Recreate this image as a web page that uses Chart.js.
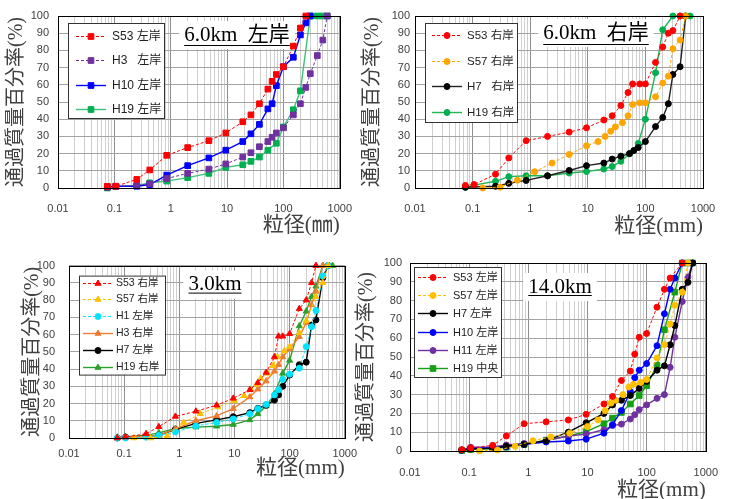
<!DOCTYPE html>
<html>
<head>
<meta charset="utf-8">
<script src="https://cdn.jsdelivr.net/npm/chart.js@4.4.0/dist/chart.umd.min.js"></script>
<style>
    html, body { margin: 0; padding: 0; background: #fff; overflow: hidden; }
    body { width: 733px; height: 499px; position: relative; }
    canvas { position: absolute; }
</style>
</head>
<body>
<canvas id="km60l" width="366" height="240" style="left:0;top:0"></canvas>
<canvas id="km60r" width="377" height="240" style="left:356px;top:0"></canvas>
<canvas id="km30" width="366" height="254" style="left:0;top:245px"></canvas>
<canvas id="km140" width="380" height="256" style="left:353px;top:248px"></canvas>
<script>
// axis labels
const X_TICK_LABELS = ['0.01', '0.1', '1', '10', '100', '1000'];
const Y_TICKS = [0, 10, 20, 30, 40, 50, 60, 70, 80, 90, 100];
const Y_TITLE = '通過質量百分率(%)';

// 6.0km 左岸  [粒径 mm, 通過質量百分率 %]
const KM60L_LABELS = ['S53 左岸', 'H3   左岸', 'H10 左岸', 'H19 左岸'];
const KM60L_S53 = [[0.075,1],[0.106,1],[0.25,5],[0.425,10.5],[0.85,19],[2,23.5],[4.75,27.5],[9.5,32],[19,38.5],[26.5,42.5],[37.5,49],[53,57.5],[63,62],[75,66],[100,70.5],[150,82.5],[200,93],[250,100]];
const KM60L_H3 = [[0.075,0.5],[0.106,1],[0.25,1.5],[0.425,2.5],[0.85,5.5],[2,8.5],[4.75,11],[9.5,14],[19,18],[26.5,20.5],[37.5,24],[53,27],[63,29.5],[75,32],[100,35],[150,42.5],[200,49],[250,58.5],[300,66.5],[400,77],[500,86],[600,100]];
const KM60L_H10 = [[0.075,0.5],[0.106,1],[0.25,1],[0.425,2],[0.85,7.5],[2,13],[4.75,17.5],[9.5,22],[19,27],[26.5,31.5],[37.5,37],[53,46],[63,49],[75,59.5],[100,70.5],[150,76],[200,89],[250,96],[300,100]];
const KM60L_H19 = [[0.075,0],[0.106,0.8],[0.25,1.5],[0.425,3],[0.85,4],[2,6],[4.75,8.5],[9.5,12],[19,13.5],[26.5,15.5],[37.5,18],[53,22],[75,26],[100,35.5],[150,45.5],[200,56.5],[300,100],[400,100],[500,100],[600,100]];

// 6.0km 右岸
const KM60R_LABELS = ['S53 右岸', 'S57 右岸', 'H7   右岸', 'H19 右岸'];
const KM60R_S53 = [[0.075,1.5],[0.106,2],[0.25,8],[0.425,17.5],[0.85,27.5],[2,30],[4.75,32.5],[9.5,35],[19,39.5],[26.5,42],[37.5,48],[50,55.5],[60,60.5],[80,60.5],[100,60.5],[150,73],[200,82],[250,90],[300,91.5],[400,100]];
const KM60R_S57 = [[0.15,0],[0.3,0.5],[0.6,4.5],[1.2,9.5],[2.4,14.5],[4.75,19.5],[9.5,24.5],[15,27],[20,30],[25,33],[30,35.5],[40,38],[50,42],[60,48.5],[80,49.5],[100,49.5],[150,53],[200,61],[250,65],[300,81],[400,86],[500,100]];
const KM60R_H7 = [[0.075,0.4],[0.25,1],[0.425,2.7],[0.85,4.4],[2,7.1],[4.75,10.2],[9.5,13],[19,14.5],[26.5,16.8],[37.5,18.5],[53,20],[63,21.8],[75,23.5],[100,27],[150,35.7],[200,41],[250,49],[300,66],[400,70.5],[500,100]];
const KM60R_H19 = [[0.075,0.4],[0.106,1.7],[0.25,3.9],[0.425,6.6],[0.85,7.1],[2,7.1],[4.75,8.7],[9.5,9.6],[19,11],[26.5,12.5],[37.5,15.5],[53,19.9],[75,25.9],[100,40],[150,67],[200,92],[300,100],[400,100],[500,100],[600,100]];

// 3.0km
const KM30_LABELS = ['S53 右岸', 'S57 右岸', 'H1 左岸', 'H3 右岸', 'H7 左岸', 'H19 右岸'];
const KM30_S53 = [[0.075,0],[0.106,0.5],[0.25,2.5],[0.425,6.5],[0.85,12.5],[2,15.5],[4.75,19],[9.5,23],[19,28],[26.5,32],[37.5,38],[53,47],[63,59],[75,59],[100,60.5],[150,75],[200,80],[250,90],[300,100]];
const KM30_S57 = [[0.15,0],[0.3,0],[0.6,1],[1.2,9],[2.4,14],[5,18],[10,21.5],[15,24.5],[20,28],[25,31],[30,34.5],[40,37.5],[50,42],[60,47],[80,50.5],[100,53],[150,61],[200,68],[300,82],[400,90],[500,100]];
const KM30_H1 = [[0.075,0],[0.106,0],[0.25,0.5],[0.425,1.5],[0.85,3.5],[2,7],[4.75,9],[9.5,11],[19,14],[26.5,17],[37.5,19.5],[53,25],[63,28],[75,34],[100,37],[150,40.5],[200,53],[250,64.5],[300,74],[400,94],[500,100]];
const KM30_H3 = [[0.075,0],[0.106,0.5],[0.25,1],[0.425,1.5],[0.85,5.3],[2,10],[4.75,12.8],[9.5,17],[19,23.8],[26.5,28.3],[37.5,33],[53,38.7],[63,42.5],[75,47],[100,51.7],[150,58.7],[200,66.8],[250,77.2],[300,85],[400,100]];
const KM30_H7 = [[0.075,0],[0.106,0.5],[0.25,1],[0.425,1.5],[0.85,5],[2,8.5],[4.75,10.5],[9.5,12.3],[19,14.7],[26.5,17.2],[37.5,19],[53,22],[63,25],[75,30],[100,36.5],[150,42.5],[200,44],[250,65.5],[300,68.5],[400,93],[500,100]];
const KM30_H19 = [[0.075,0.5],[0.106,0.8],[0.25,1.5],[0.425,3],[0.85,5.5],[2,6.3],[4.75,6.8],[9.5,7.8],[19,10.5],[26.5,14],[37.5,18.5],[53,25.5],[75,37.5],[100,45],[150,65],[200,73.5],[250,82],[300,88],[400,100],[500,100],[600,100]];

// 14.0km
const KM140_LABELS = ['S53 左岸', 'S57 左岸', 'H7 左岸', 'H10 左岸', 'H11 左岸', 'H19 中央'];
const KM140_S53 = [[0.075,0.7],[0.106,1.6],[0.25,3],[0.425,8],[0.85,14.5],[2,15.5],[4.75,16.5],[9.5,19.5],[19,25],[26.5,29],[37.5,37.5],[53,42.5],[63,51.5],[75,60.5],[100,62.5],[150,76.5],[200,86],[250,92],[400,100]];
const KM140_S57 = [[0.15,0],[0.3,0.5],[0.6,2.5],[1.2,5.5],[2.4,7.5],[5,9.5],[10,13],[15,16.5],[20,21.5],[25,25.5],[30,27],[40,30],[50,34],[60,35.5],[80,36.5],[100,38],[150,49.5],[200,56.5],[250,67.5],[300,77.5],[400,84.5],[500,100]];
const KM140_H7 = [[0.075,0.5],[0.106,1],[0.25,1.5],[0.425,2.5],[0.85,3.5],[2,5.5],[4.75,10],[9.5,15],[19,20],[26.5,24.5],[37.5,27],[53,29.5],[75,33.3],[100,37],[150,43],[200,45.3],[250,56.5],[300,66.7],[400,86],[500,89.7],[600,100]];
const KM140_H10 = [[0.075,0.5],[0.106,1.5],[0.25,1.8],[0.425,2.3],[0.85,3.5],[2,4.8],[4.75,5.3],[9.5,6.3],[19,9.5],[26.5,14],[37.5,21.5],[53,31.5],[63,39],[75,43],[100,46.5],[150,56],[200,73],[250,86],[300,92],[400,100]];
const KM140_H11 = [[0.075,0.5],[0.106,2],[0.25,2.2],[0.425,3.2],[0.85,4],[2,5.5],[4.75,8],[9.5,9],[19,11.3],[26.5,13.5],[37.5,14.3],[53,17],[63,19.3],[75,22],[100,24.5],[150,28],[200,30],[250,44.5],[300,60.5],[400,79.5],[500,92.5],[600,100]];
const KM140_H19 = [[0.075,0.3],[0.106,0.8],[0.25,1.3],[0.425,2],[0.85,3.5],[2,5.8],[4.75,8],[9.5,10.3],[19,14.5],[26.5,17.5],[37.5,20.5],[53,25],[75,29.5],[100,34.7],[150,45.5],[200,64.5],[300,84.5],[400,100],[500,100],[600,100]];

const SANS = '"Liberation Sans", "Noto Sans CJK JP", sans-serif';
const SERIF = '"Liberation Serif", "Noto Sans CJK JP", serif';

// log grid: 1..9 x 10^n between 0.01 and 1000
const xGridValues = [];
for (let e = -2; e < 3; e++) {
    for (let m = 1; m < 10; m++) xGridValues.push(Number((m * Math.pow(10, e)).toPrecision(3)));
}
xGridValues.push(1000);

function isDecade(v) {
    const l = Math.log10(v);
    return Math.abs(l - Math.round(l)) < 1e-9;
}

function series(label, data, color, opts = {}) {
    return {
        label,
        data: data.map(([x, y]) => ({ x, y })),
        borderColor: opts.line || color,
        backgroundColor: color,
        pointBackgroundColor: color,
        pointBorderColor: color,
        pointBorderWidth: 1,
        pointStyle: opts.point || 'circle',
        pointRadius: opts.r || 3,
        borderWidth: opts.dash ? 1 : 1.4,
        borderDash: opts.dash ? [3, 2] : [],
        tension: 0,
        fill: false,
        clip: false
    };
}

const panelPlugin = {
    id: 'panel',
    beforeDatasetsDraw(chart, args, o) {
        const { ctx, chartArea: a } = chart;
        ctx.save();
        // caption with white patch and underline
        ctx.font = `${o.capSize}px ${SERIF}`;
        const tw = ctx.measureText(o.caption).width;
        const cx = a.left + o.capX, cy = a.top + o.capY;
        ctx.fillStyle = '#fff';
        ctx.fillRect(cx - tw / 2 - 5, cy - 14, tw + 10, 28);
        ctx.fillStyle = '#000';
        ctx.textAlign = 'center';
        ctx.textBaseline = 'middle';
        ctx.fillText(o.caption, cx, cy);
        ctx.fillRect(cx - tw / 2, cy + o.ulY, tw, 1);

        // legend box
        const lg = o.legend;
        const bx = a.left + lg.dx, by = a.top + lg.dy;
        ctx.fillStyle = '#fff';
        ctx.fillRect(bx, by, lg.w, lg.h);
        ctx.strokeStyle = '#333';
        ctx.lineWidth = 1;
        ctx.strokeRect(bx + 0.5, by + 0.5, lg.w, lg.h);
        ctx.font = `${lg.size}px ${SANS}`;
        ctx.textAlign = 'left';
        chart.data.datasets.forEach((ds, i) => {
            const y = Math.round(by + lg.row0 + i * lg.gap) + 0.5;
            ctx.strokeStyle = ds.borderColor;
            ctx.lineWidth = ds.borderWidth;
            ctx.setLineDash(ds.borderDash);
            ctx.beginPath();
            ctx.moveTo(bx + lg.x0, y);
            ctx.lineTo(bx + lg.x0 + 30, y);
            ctx.stroke();
            ctx.setLineDash([]);
            ctx.fillStyle = ds.pointBackgroundColor;
            ctx.strokeStyle = ds.pointBorderColor;
            ctx.lineWidth = 1;
            Chart.helpers.drawPoint(ctx, { pointStyle: ds.pointStyle, radius: ds.pointRadius, rotation: 0, borderWidth: 1 }, bx + lg.x0 + 15, y);
            ctx.fillStyle = '#222';
            ctx.fillText(ds.label, bx + lg.tx, y);
        });
        ctx.restore();
    },
    afterDraw(chart) {
        const { ctx, chartArea: a } = chart;
        ctx.save();
        ctx.strokeStyle = '#000';
        ctx.lineWidth = 1;
        ctx.strokeRect(Math.round(a.left) + 0.5, Math.round(a.top) + 0.5, Math.round(a.width), Math.round(a.height));
        ctx.restore();
    }
};

function makePanel(id, p, datasets) {
    return new Chart(document.getElementById(id), {
        type: 'line',
        data: { datasets },
        plugins: [panelPlugin],
        options: {
            responsive: false,
            animation: false,
            layout: { padding: { left: 0, top: p.padTop, right: p.padRight, bottom: 0 } },
            plugins: {
                legend: { display: false },
                tooltip: { enabled: false },
                panel: p.panel
            },
            scales: {
                x: {
                    type: 'logarithmic',
                    min: 0.01,
                    max: 1000,
                    afterBuildTicks: s => { s.ticks = xGridValues.map(v => ({ value: v })); },
                    afterFit: s => { s.height = p.xAxisH; },
                    ticks: {
                        autoSkip: false,
                        maxRotation: 0,
                        padding: p.xTickPad,
                        color: '#404040',
                        font: { family: SANS, size: 11 },
                        callback: v => isDecade(v) ? X_TICK_LABELS[Math.round(Math.log10(v)) + 2] : ''
                    },
                    grid: {
                        drawTicks: false,
                        color: c => (c.tick && isDecade(c.tick.value)) ? '#8f8f8f' : '#cfcfcf'
                    },
                    border: { display: false },
                    title: {
                        display: true,
                        text: p.xTitle,
                        align: 'end',
                        color: '#404040',
                        font: { family: SERIF, size: 21 },
                        padding: { top: 0, bottom: p.xTitlePad }
                    }
                },
                y: {
                    min: 0,
                    max: 100,
                    afterBuildTicks: s => { s.ticks = Y_TICKS.map(v => ({ value: v })); },
                    afterFit: s => { s.width = p.yAxisW; },
                    ticks: {
                        padding: p.yTickPad,
                        color: '#404040',
                        font: { family: SANS, size: 11 }
                    },
                    grid: { drawTicks: false, color: '#a3a3a3' },
                    border: { display: false },
                    title: {
                        display: true,
                        text: Y_TITLE,
                        color: '#404040',
                        font: { family: SERIF, size: 20 },
                        padding: { top: p.yTitlePad, bottom: 0 }
                    }
                }
            }
        }
    });
}

function loadCharts() {
    makePanel('km60l', {
        padTop: 16, padRight: 19, yAxisW: 58, xAxisH: 52,
        xTickPad: 14, yTickPad: 9, xTitlePad: 2, yTitlePad: 5, xTitle: '粒径(㎜)',
        panel: { caption: '6.0km  左岸', capSize: 21, capX: 179, capY: 19, ulY: 10,
                 legend: { dx: 10, dy: 7, w: 96, h: 95, row0: 13, gap: 24.3, x0: 8, tx: 44, size: 12 } }
    }, [
        series(KM60L_LABELS[0], KM60L_S53, '#ff0000', { dash: true, point: 'rect', r: 4 }),
        series(KM60L_LABELS[1], KM60L_H3, '#7030a0', { dash: true, point: 'rect', r: 4 }),
        series(KM60L_LABELS[2], KM60L_H10, '#0000ff', { point: 'rect', r: 4 }),
        series(KM60L_LABELS[3], KM60L_H19, '#00b050', { point: 'rect', r: 4, line: '#3cc27a' })
    ]);

    makePanel('km60r', {
        padTop: 16, padRight: 30, yAxisW: 59, xAxisH: 52,
        xTickPad: 14, yTickPad: 5, xTitlePad: 1, yTitlePad: 5, xTitle: '粒径(mm)',
        panel: { caption: '6.0km  右岸', capSize: 21, capX: 181, capY: 17, ulY: 11,
                 legend: { dx: 10, dy: 7, w: 92, h: 99, row0: 12, gap: 25.7, x0: 7, tx: 42, size: 11.5 } }
    }, [
        series(KM60R_LABELS[0], KM60R_S53, '#ff0000', { dash: true }),
        series(KM60R_LABELS[1], KM60R_S57, '#ffa500', { dash: true }),
        series(KM60R_LABELS[2], KM60R_H7, '#000000', { line: '#222222' }),
        series(KM60R_LABELS[3], KM60R_H19, '#00b050', { line: '#22b455' })
    ]);

    makePanel('km30', {
        padTop: 16, padRight: 19, yAxisW: 69, xAxisH: 61,
        xTickPad: 9, yTickPad: 14, xTitlePad: 18, yTitlePad: 21, xTitle: '粒径(mm)',
        panel: { caption: '3.0km', capSize: 21, capX: 146, capY: 19, ulY: 8,
                 legend: { dx: 10, dy: 10, w: 86, h: 99, row0: 7, gap: 16.8, x0: 4, tx: 37, size: 10.5 } }
    }, [
        series(KM30_LABELS[0], KM30_S53, '#ff0000', { dash: true, point: 'triangle', r: 3.5 }),
        series(KM30_LABELS[1], KM30_S57, '#ffc000', { dash: true, point: 'triangle', r: 3.5 }),
        series(KM30_LABELS[2], KM30_H1, '#00e5ff', { dash: true }),
        series(KM30_LABELS[3], KM30_H3, '#ed7d31', { point: 'triangle', r: 3.5 }),
        series(KM30_LABELS[4], KM30_H7, '#000000'),
        series(KM30_LABELS[5], KM30_H19, '#2ca02c', { point: 'triangle', r: 3.5 })
    ]);

    makePanel('km140', {
        padTop: 15, padRight: 26, yAxisW: 57, xAxisH: 53,
        xTickPad: 15, yTickPad: 8, xTitlePad: 1, yTitlePad: 2, xTitle: '粒径(mm)',
        panel: { caption: '14.0km', capSize: 21, capX: 150, capY: 24, ulY: 8,
                 legend: { dx: 4, dy: 4, w: 87, h: 110, row0: 10, gap: 18.2, x0: 4, tx: 39, size: 11 } }
    }, [
        series(KM140_LABELS[0], KM140_S53, '#ff0000', { dash: true }),
        series(KM140_LABELS[1], KM140_S57, '#ffc000', { dash: true }),
        series(KM140_LABELS[2], KM140_H7, '#000000'),
        series(KM140_LABELS[3], KM140_H10, '#0000ff'),
        series(KM140_LABELS[4], KM140_H11, '#7030a0'),
        series(KM140_LABELS[5], KM140_H19, '#16a016', { point: 'rect', r: 4 })
    ]);
}

window.addEventListener('DOMContentLoaded', loadCharts);
</script>
</body>
</html>
